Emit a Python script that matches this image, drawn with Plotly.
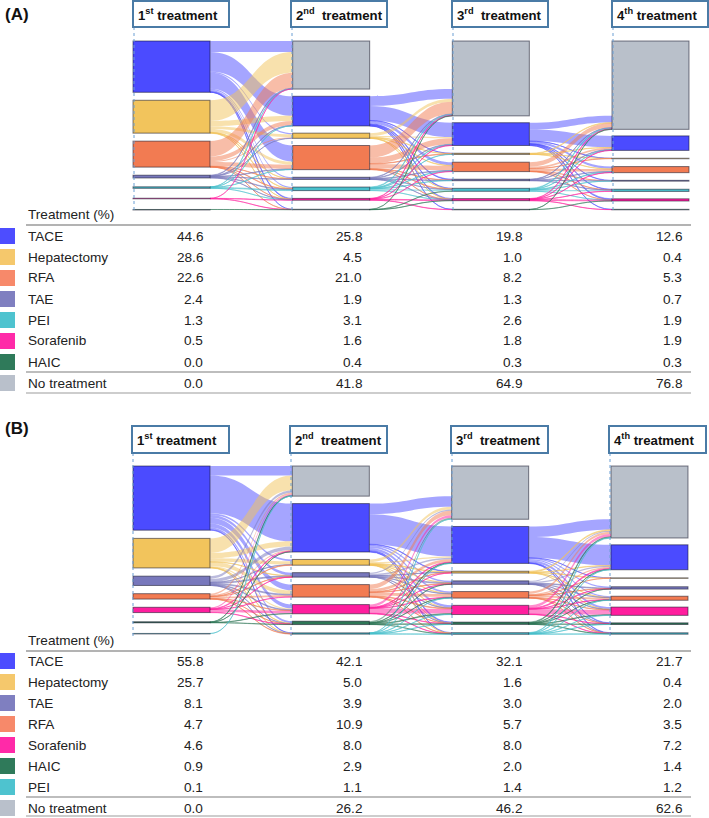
import numpy as np
import plotly.graph_objects as go

W, H = 709, 818

# ---------------- data ----------------
stage_titles = ["1<sup>st</sup> treatment", "2<sup>nd</sup>&nbsp; treatment",
                "3<sup>rd</sup>&nbsp; treatment", "4<sup>th</sup> treatment"]

# Panel A
cats_A = ["TACE", "Hepatectomy", "RFA", "TAE", "PEI", "Sorafenib", "HAIC", "No treatment"]
pct_A_1st = [44.6, 28.6, 22.6, 2.4, 1.3, 0.5, 0.0, 0.0]
pct_A_2nd = [25.8, 4.5, 21.0, 1.9, 3.1, 1.6, 0.4, 41.8]
pct_A_3rd = [19.8, 1.0, 8.2, 1.3, 2.6, 1.8, 0.3, 64.9]
pct_A_4th = [12.6, 0.4, 5.3, 0.7, 1.9, 1.9, 0.3, 76.8]

# estimated flows (rows: from, cols: to; order as cats_A)
flows_A_1to2 = [
    [17.0, 1.0, 14.0, 1.2, 1.1, 0.7, 0.1, 9.5],
    [4.5, 2.5, 2.8, 0.2, 0.4, 0.2, 0.0, 18.0],
    [3.8, 0.9, 3.6, 0.2, 0.4, 0.1, 0.1, 13.5],
    [0.4, 0.1, 0.4, 0.3, 0.5, 0.2, 0.0, 0.5],
    [0.1, 0.0, 0.2, 0.0, 0.7, 0.1, 0.0, 0.2],
    [0.0, 0.0, 0.0, 0.0, 0.0, 0.3, 0.1, 0.1],
    [0.0, 0.0, 0.0, 0.0, 0.0, 0.0, 0.04, 0.0],
    [0.0, 0.0, 0.0, 0.0, 0.0, 0.0, 0.0, 0.0],
]
flows_A_2to3 = [
    [12.5, 0.2, 2.8, 0.6, 0.5, 0.6, 0.1, 8.5],
    [1.0, 0.3, 0.4, 0.0, 0.1, 0.1, 0.0, 2.6],
    [5.2, 0.4, 4.0, 0.3, 0.4, 0.2, 0.0, 10.5],
    [0.5, 0.0, 0.4, 0.3, 0.1, 0.1, 0.0, 0.5],
    [0.4, 0.1, 0.4, 0.1, 1.4, 0.1, 0.0, 0.6],
    [0.2, 0.0, 0.2, 0.0, 0.0, 0.6, 0.2, 0.4],
    [0.0, 0.0, 0.0, 0.0, 0.1, 0.1, 0.0, 0.2],
    [0.0, 0.0, 0.0, 0.0, 0.0, 0.0, 0.0, 41.8],
]
flows_A_3to4 = [
    [10.0, 0.1, 2.0, 0.3, 0.4, 0.8, 0.2, 6.0],
    [0.2, 0.1, 0.2, 0.0, 0.0, 0.0, 0.0, 0.5],
    [1.6, 0.2, 2.1, 0.1, 0.2, 0.1, 0.0, 3.9],
    [0.4, 0.0, 0.3, 0.2, 0.1, 0.0, 0.0, 0.3],
    [0.3, 0.0, 0.5, 0.1, 1.0, 0.1, 0.0, 0.6],
    [0.1, 0.0, 0.2, 0.0, 0.2, 0.8, 0.1, 0.4],
    [0.0, 0.0, 0.0, 0.0, 0.0, 0.1, 0.0, 0.2],
    [0.0, 0.0, 0.0, 0.0, 0.0, 0.0, 0.0, 64.9],
]

# Panel B
cats_B = ["TACE", "Hepatectomy", "TAE", "RFA", "Sorafenib", "HAIC", "PEI", "No treatment"]
pct_B_1st = [55.8, 25.7, 8.1, 4.7, 4.6, 0.9, 0.1, 0.0]
pct_B_2nd = [42.1, 5.0, 3.9, 10.9, 8.0, 2.9, 1.1, 26.2]
pct_B_3rd = [32.1, 1.6, 3.0, 5.7, 8.0, 2.0, 1.4, 46.2]
pct_B_4th = [21.7, 0.4, 2.0, 3.5, 7.2, 1.4, 1.2, 62.6]

flows_B_1to2 = [
    [32.8, 1.5, 2.5, 5.0, 3.5, 1.8, 0.5, 8.2],
    [4.5, 3.0, 0.3, 3.5, 1.0, 0.3, 0.3, 12.8],
    [3.0, 0.2, 0.8, 0.8, 0.6, 0.3, 0.1, 2.3],
    [1.0, 0.3, 0.2, 1.4, 0.3, 0.1, 0.2, 1.2],
    [0.5, 0.0, 0.1, 0.2, 2.4, 0.2, 0.0, 1.2],
    [0.1, 0.0, 0.0, 0.0, 0.2, 0.2, 0.0, 0.4],
    [0.0, 0.0, 0.0, 0.0, 0.0, 0.0, 0.0, 0.1],
    [0.0, 0.0, 0.0, 0.0, 0.0, 0.0, 0.0, 0.0],
]
flows_B_2to3 = [
    [26.0, 0.4, 1.5, 1.5, 2.2, 0.8, 0.4, 9.3],
    [1.2, 0.6, 0.1, 0.4, 0.2, 0.1, 0.1, 2.3],
    [1.3, 0.1, 0.8, 0.2, 0.2, 0.1, 0.0, 1.2],
    [2.4, 0.4, 0.3, 2.8, 0.6, 0.2, 0.3, 3.9],
    [0.6, 0.1, 0.2, 0.4, 4.0, 0.3, 0.2, 2.2],
    [0.4, 0.0, 0.1, 0.2, 0.6, 0.4, 0.1, 1.1],
    [0.2, 0.0, 0.0, 0.2, 0.2, 0.1, 0.3, 0.1],
    [0.0, 0.0, 0.0, 0.0, 0.0, 0.0, 0.0, 26.2],
]
flows_B_3to4 = [
    [18.0, 0.1, 1.0, 1.0, 2.0, 0.5, 0.3, 9.2],
    [0.3, 0.2, 0.0, 0.2, 0.1, 0.0, 0.0, 0.8],
    [0.9, 0.0, 0.6, 0.1, 0.2, 0.1, 0.1, 1.0],
    [1.2, 0.1, 0.2, 1.6, 0.3, 0.1, 0.2, 2.0],
    [0.8, 0.0, 0.1, 0.3, 4.0, 0.3, 0.2, 2.3],
    [0.3, 0.0, 0.1, 0.1, 0.4, 0.3, 0.1, 0.7],
    [0.2, 0.0, 0.0, 0.2, 0.2, 0.1, 0.3, 0.4],
    [0.0, 0.0, 0.0, 0.0, 0.0, 0.0, 0.0, 46.2],
]

# ---------------- styles ----------------
node_colors = {
    "TACE": "#4B4BFF", "Hepatectomy": "#F2C45C", "RFA": "#F27B52", "TAE": "#7878BC",
    "PEI": "#48BFCB", "Sorafenib": "#FF1E9E", "HAIC": "#2E7656", "No treatment": "#B9C0CA",
}
square_colors = {
    "TACE": "#4D4DFF", "Hepatectomy": "#F5C86C", "RFA": "#F7896A", "TAE": "#7F7FC0",
    "PEI": "#4EC3CF", "Sorafenib": "#FF2AA8", "HAIC": "#2F7A5A", "No treatment": "#B9C0CB",
}
NODE_EDGE = "rgba(20,20,40,0.55)"
FONT = "Liberation Sans, Arial, sans-serif"


def hex_rgba(h, a):
    h = h.lstrip("#")
    return "rgba(%d,%d,%d,%.2f)" % (int(h[0:2], 16), int(h[2:4], 16), int(h[4:6], 16), a)


def px_x(p):
    return p / W


def px_y(p):
    return 1 - p / H


def build_sankey(cats, flows_list, left, right, top, bottom, thick=77, ky=1.15, hmin=3.0):
    nc = len(cats)
    notx = nc - 1
    F = [np.array(f, float) for f in flows_list]
    n_stage = len(F) + 1
    vals = []
    for s in range(n_stage):
        out_ = F[s].sum(axis=1) if s < n_stage - 1 else np.zeros(nc)
        in_ = F[s - 1].sum(axis=0) if s > 0 else np.zeros(nc)
        vals.append(np.maximum(in_, out_))
    order = [notx] + list(range(nc - 1))
    wdom = right - left
    hdom = bottom - top
    idx = {}
    colors, xs, ys = [], [], []
    pads = []
    for s in range(n_stage):
        present = [c for c in order if vals[s][c] > 0]
        hs = [max(vals[s][c] * ky, hmin) for c in present]
        gap = (hdom - sum(hs)) / (len(present) - 1)
        pads.append((hdom - ky * sum(vals[s][c] for c in present)) / (len(present) - 1))
        y = 0.0
        xc = (thick / 2 + s * (wdom - thick) / (n_stage - 1)) / wdom
        for c, hh in zip(present, hs):
            idx[(s, c)] = len(colors)
            colors.append(node_colors[cats[c]])
            xs.append(xc)
            ys.append((y + hh / 2) / hdom)
            y += hh + gap
    src, tgt, val, lcol = [], [], [], []
    for s, f in enumerate(F):
        for i in range(nc):
            for j in range(nc):
                if f[i, j] > 0:
                    src.append(idx[(s, i)])
                    tgt.append(idx[(s + 1, j)])
                    val.append(f[i, j])
                    alpha = 0.0 if (i == notx and j == notx) else 0.5
                    lcol.append(hex_rgba(node_colors[cats[i]], alpha))
    return go.Sankey(
        arrangement="fixed",
        domain=dict(x=[px_x(left), px_x(right)], y=[px_y(bottom), px_y(top)]),
        node=dict(color=colors,
                  line=dict(color=NODE_EDGE, width=1),
                  thickness=thick, pad=min(pads), x=xs, y=ys, hoverinfo="skip"),
        link=dict(source=src, target=tgt, value=val, color=lcol, hoverinfo="skip"),
    )


fig = go.Figure()
fig.add_trace(build_sankey(cats_A, [flows_A_1to2, flows_A_2to3, flows_A_3to4], 133, 689, 41, 211))
fig.add_trace(build_sankey(cats_B, [flows_B_1to2, flows_B_2to3, flows_B_3to4], 133, 688, 466, 635))

shapes = []
annotations = []


def add_headers(y0, y1, box_lefts, box_w, line_bottom):
    for k, bl in enumerate(box_lefts):
        shapes.append(dict(type="line", xref="paper", yref="paper",
                           x0=px_x(bl + 1), x1=px_x(bl + 1), y0=px_y(y1), y1=px_y(line_bottom),
                           line=dict(color="#6A9FD4", width=1, dash="dot")))
        shapes.append(dict(type="rect", xref="paper", yref="paper",
                           x0=px_x(bl), x1=px_x(bl + box_w), y0=px_y(y1), y1=px_y(y0),
                           line=dict(color="#4A7BA6", width=2), fillcolor="white"))
        annotations.append(dict(xref="paper", yref="paper", x=px_x(bl + 3), y=px_y((y0 + y1) / 2),
                                xanchor="left", yanchor="middle", showarrow=False,
                                text="<b>%s</b>" % stage_titles[k],
                                font=dict(family=FONT, size=13.2, color="#111111")))


def add_table(cats, cols, y_head, y_top, y_row0, y_mid, y_notx, y_bot):
    annotations.append(dict(xref="paper", yref="paper", x=px_x(26), y=px_y(y_head),
                            xanchor="left", yanchor="middle", showarrow=False,
                            text="Treatment (%)", font=dict(family=FONT, size=13.6, color="#222222")))
    shapes.append(dict(type="line", xref="paper", yref="paper", x0=px_x(26), x1=px_x(691),
                       y0=px_y(y_top), y1=px_y(y_top), line=dict(color="#9A9A9A", width=1.5)))
    shapes.append(dict(type="line", xref="paper", yref="paper", x0=px_x(26), x1=px_x(691),
                       y0=px_y(y_mid), y1=px_y(y_mid), line=dict(color="#BDBDBD", width=2)))
    shapes.append(dict(type="line", xref="paper", yref="paper", x0=px_x(26), x1=px_x(691),
                       y0=px_y(y_bot), y1=px_y(y_bot), line=dict(color="#BDBDBD", width=1.5)))
    col_right = [204, 363, 523, 683]
    for i, c in enumerate(cats):
        yc = y_row0 + 21 * i if i < len(cats) - 1 else y_notx
        shapes.append(dict(type="rect", xref="paper", yref="paper", x0=px_x(0), x1=px_x(15),
                           y0=px_y(yc + 8), y1=px_y(yc - 8), line=dict(width=0),
                           fillcolor=square_colors[c]))
        annotations.append(dict(xref="paper", yref="paper", x=px_x(26), y=px_y(yc),
                                xanchor="left", yanchor="middle", showarrow=False, text=c,
                                font=dict(family=FONT, size=13.6, color="#222222")))
        for k, colvals in enumerate(cols):
            annotations.append(dict(xref="paper", yref="paper", x=px_x(col_right[k] + 1), y=px_y(yc),
                                    xanchor="right", yanchor="middle", showarrow=False,
                                    text="%.1f" % colvals[i],
                                    font=dict(family=FONT, size=13.6, color="#222222")))


add_headers(1, 27, [133, 291, 452, 612], 96, 212)
add_headers(426, 453, [132, 290, 451, 609], 97, 636)
add_table(cats_A, [pct_A_1st, pct_A_2nd, pct_A_3rd, pct_A_4th], 215, 225, 236, 372, 383, 393)
add_table(cats_B, [pct_B_1st, pct_B_2nd, pct_B_3rd, pct_B_4th], 640, 651, 661, 797, 808, 816)

annotations.append(dict(xref="paper", yref="paper", x=px_x(3), y=px_y(14), xanchor="left",
                        yanchor="middle", showarrow=False, text="<b>(A)</b>",
                        font=dict(family=FONT, size=17, color="#111111")))
annotations.append(dict(xref="paper", yref="paper", x=px_x(3), y=px_y(428), xanchor="left",
                        yanchor="middle", showarrow=False, text="<b>(B)</b>",
                        font=dict(family=FONT, size=17, color="#111111")))

fig.update_layout(
    width=W, height=H, autosize=False,
    margin=dict(l=0, r=0, t=0, b=0),
    paper_bgcolor="white", plot_bgcolor="white",
    shapes=shapes, annotations=annotations,
    font=dict(family=FONT),
    showlegend=False,
)

fig.write_html("out.html", config={"displayModeBar": False},
               post_script="document.body.style.margin='0px';document.body.style.padding='0px';"
                           "document.body.style.overflow='hidden';")
